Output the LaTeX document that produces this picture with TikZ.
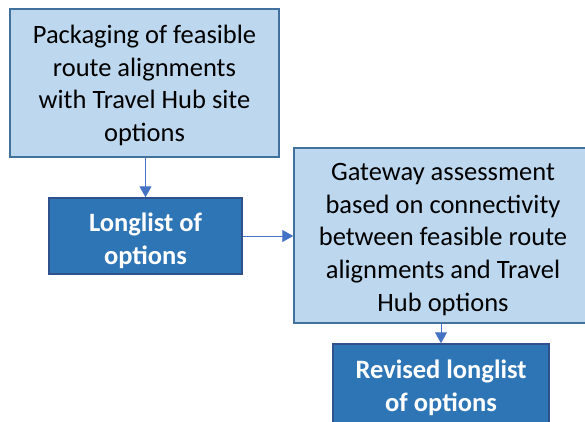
\documentclass[tikz,border=0pt]{standalone}
\usepackage{fontspec}
\setmainfont{Carlito}
\usetikzlibrary{arrows.meta}
\definecolor{paleblue}{HTML}{BDD7EE}
\definecolor{paleedge}{HTML}{41719C}
\definecolor{deepblue}{HTML}{2E75B6}
\definecolor{deepedge}{HTML}{2F528F}
\definecolor{linkblue}{HTML}{4472C4}
\tikzset{
  stagebox/.style={draw=paleedge, fill=paleblue, line width=1.5pt, inner sep=0pt},
  resultbox/.style={draw=deepedge, fill=deepblue, line width=1.5pt, inner sep=0pt},
  stagetext/.style={inner sep=0pt, align=center, text=black,
    font=\fontsize{26.5}{32.8}\selectfont},
  resulttext/.style={inner sep=0pt, align=center, text=white,
    font=\fontsize{26.5}{33.5}\selectfont\bfseries},
  link/.style={draw=linkblue, line width=1pt, -{Triangle[width=12pt,length=11pt]}}
}
\begin{document}
\begin{tikzpicture}[x=1pt, y=-1pt]
  \useasboundingbox (0,0) rectangle (585,421);
  \clip (0,0) rectangle (585,421);
  % boxes
  \node[stagebox, minimum width=269pt, minimum height=148pt] (pack) at (144.5,83) {};
  \node[resultbox, minimum width=193pt, minimum height=76pt] (long) at (145.5,236) {};
  \node[stagebox, minimum width=298pt, minimum height=175pt] (gate) at (443,235.5) {};
  \node[resultbox, minimum width=216pt, minimum height=84pt] (rev) at (441,386) {};
  % box texts
  \node[stagetext] (packtext) at ([yshift=-2.5pt]pack.center)
    {Packaging of feasible\\route alignments\\with Travel Hub site\\options};
  \node[resulttext] (longtext) at ([yshift=-5pt]long.center)
    {Longlist of\\options};
  \node[stagetext] (gatetext) at ([yshift=-4pt]gate.center)
    {Gateway assessment\\based on connectivity\\between feasible route\\alignments and Travel\\Hub options};
  \node[resulttext] (revtext) at ([yshift=-2pt]rev.center)
    {Revised longlist\\of options};
  % connectors
  \draw[link] (pack.south -| long.north) -- (long.north);
  \draw[link] (long.east) -- (long.east -| gate.west);
  \draw[link] (gate.south -| rev.north) -- (rev.north);
\end{tikzpicture}
\end{document}
